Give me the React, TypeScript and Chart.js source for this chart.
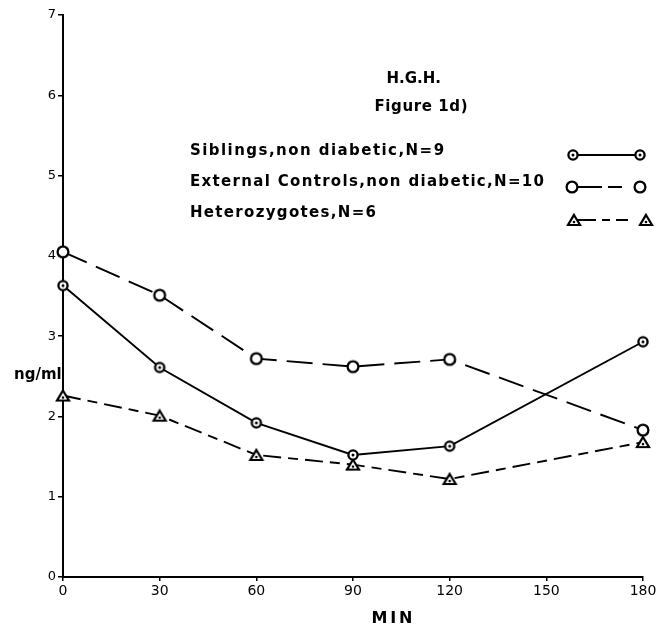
import React, { useEffect, useRef } from "react";
import { Chart, registerables } from "chart.js";

Chart.register(...registerables);

// ---- data ----
const minutes = [0, 30, 60, 90, 120, 180];
const siblings = [3.63, 2.61, 1.92, 1.52, 1.63, 2.93];
const externalControls = [4.05, 3.51, 2.72, 2.62, 2.71, 1.83];
const heterozygotes = [2.26, 2.01, 1.52, 1.4, 1.22, 1.68];
const xTickValues = [0, 30, 60, 90, 120, 150, 180];
const yTickValues = [0, 1, 2, 3, 4, 5, 6, 7];
const seriesLabels = [
  "Siblings,non diabetic,N=9",
  "External Controls,non diabetic,N=10",
  "Heterozygotes,N=6",
];
const titleLines = ["H.G.H.", "Figure 1d)"];
const xTitle = "MIN";
const yTitle = "ng/ml";

const FONT = '"DejaVu Sans", "Liberation Sans", sans-serif';

function makeDotCircle(r: number, lw: number): HTMLCanvasElement {
  const s = 14;
  const c = document.createElement("canvas");
  c.width = s;
  c.height = s;
  const g = c.getContext("2d")!;
  g.strokeStyle = "#000";
  g.lineWidth = lw;
  g.fillStyle = "#fff";
  g.beginPath();
  g.arc(s / 2, s / 2, r, 0, Math.PI * 2);
  g.fill();
  g.stroke();
  g.fillStyle = "#000";
  g.beginPath();
  g.arc(s / 2, s / 2, 1.5, 0, Math.PI * 2);
  g.fill();
  return c;
}

function makeOpenCircle(r: number, lw: number): HTMLCanvasElement {
  const s = 16;
  const c = document.createElement("canvas");
  c.width = s;
  c.height = s;
  const g = c.getContext("2d")!;
  g.strokeStyle = "#000";
  g.lineWidth = lw;
  g.fillStyle = "#fff";
  g.beginPath();
  g.arc(s / 2, s / 2, r, 0, Math.PI * 2);
  g.fill();
  g.stroke();
  return c;
}

function makeTriangle(w: number, h: number, lw: number): HTMLCanvasElement {
  const cw = 18;
  const ch = 16;
  const c = document.createElement("canvas");
  c.width = cw;
  c.height = ch;
  const g = c.getContext("2d")!;
  const top = (ch - h) / 2;
  const bot = (ch + h) / 2;
  g.strokeStyle = "#000";
  g.lineWidth = lw;
  g.lineJoin = "miter";
  g.fillStyle = "#fff";
  g.beginPath();
  g.moveTo(cw / 2, top);
  g.lineTo(cw / 2 + w / 2, bot);
  g.lineTo(cw / 2 - w / 2, bot);
  g.closePath();
  g.fill();
  g.stroke();
  g.fillStyle = "#000";
  g.beginPath();
  g.arc(cw / 2, bot - h * 0.3, 1.3, 0, Math.PI * 2);
  g.fill();
  return c;
}

export default function App() {
  const ref = useRef<HTMLCanvasElement | null>(null);

  useEffect(() => {
    if (!ref.current) return;
    const dotCircle = makeDotCircle(4.6, 2.3);
    const openCircle = makeOpenCircle(5.4, 2.3);
    const triangle = makeTriangle(12, 10, 2.2);

    const dashExternal = [26, 10];
    const dashHetero = [18, 7, 10, 7];

    const annot = {
      id: "annot",
      afterDraw(chart: any) {
        const ctx: CanvasRenderingContext2D = chart.ctx;
        ctx.save();
        ctx.fillStyle = "#000";
        ctx.textBaseline = "middle";
        ctx.textAlign = "left";
        const fitText = (
          text: string,
          x: number,
          y: number,
          width: number,
          font: string,
          center: boolean
        ) => {
          ctx.font = font;
          (ctx as any).letterSpacing = "0px";
          const w = ctx.measureText(text).width;
          const ls = Math.max(0, (width - w) / Math.max(1, text.length - 1));
          (ctx as any).letterSpacing = ls.toFixed(2) + "px";
          const x0 = center ? x - width / 2 : x;
          ctx.fillText(text, x0, y);
          (ctx as any).letterSpacing = "0px";
        };

        // title block
        fitText(titleLines[0], 410, 79, 47, `bold 15px ${FONT}`, true);
        fitText(titleLines[1], 421, 107, 93, `bold 15px ${FONT}`, true);

        // legend labels
        fitText(seriesLabels[0], 190, 151, 254, `bold 15px ${FONT}`, false);
        fitText(seriesLabels[1], 190, 182, 354, `bold 15px ${FONT}`, false);
        fitText(seriesLabels[2], 190, 213, 186, `bold 15px ${FONT}`, false);

        // legend samples
        const sample = (
          y: number,
          x1: number,
          x2: number,
          dash: number[],
          img: HTMLCanvasElement
        ) => {
          ctx.save();
          ctx.strokeStyle = "#000";
          ctx.lineWidth = 1.8;
          ctx.setLineDash(dash);
          ctx.beginPath();
          ctx.moveTo(x1, y);
          ctx.lineTo(x2, y);
          ctx.stroke();
          ctx.setLineDash([]);
          ctx.drawImage(img, x1 - img.width / 2, y - img.height / 2);
          ctx.drawImage(img, x2 - img.width / 2, y - img.height / 2);
          ctx.restore();
        };
        sample(155, 573, 640, [], dotCircle);
        sample(187, 572, 640, [30, 6, 14, 100], openCircle);
        sample(220, 574, 646, [22, 6, 8, 6, 12, 100], triangle);

        // axis titles
        fitText(yTitle, 14, 375, 47, `bold 15px ${FONT}`, false);
        fitText(xTitle, 392, 619, 41, `bold 16px ${FONT}`, true);
        ctx.restore();
      },
    };

    const chart = new Chart(ref.current, {
      type: "line",
      data: {
        datasets: [
          {
            label: seriesLabels[0],
            data: minutes.map((m, i) => ({ x: m, y: siblings[i] })),
            borderColor: "#000",
            borderWidth: 1.9,
            pointStyle: dotCircle as any,
            pointRadius: 6,
            clip: false as any,
          },
          {
            label: seriesLabels[1],
            data: minutes.map((m, i) => ({ x: m, y: externalControls[i] })),
            borderColor: "#000",
            borderWidth: 1.9,
            borderDash: dashExternal,
            pointStyle: openCircle as any,
            pointRadius: 6,
            clip: false as any,
          },
          {
            label: seriesLabels[2],
            data: minutes.map((m, i) => ({ x: m, y: heterozygotes[i] })),
            borderColor: "#000",
            borderWidth: 1.9,
            borderDash: dashHetero,
            pointStyle: triangle as any,
            pointRadius: 6,
            clip: false as any,
          },
        ],
      },
      options: {
        responsive: false,
        animation: false,
        events: [],
        layout: { padding: { top: 15, right: 27, left: 0, bottom: 0 } },
        plugins: {
          legend: { display: false },
          tooltip: { enabled: false },
          title: { display: false },
        },
        scales: {
          x: {
            type: "linear",
            min: 0,
            max: 180,
            afterBuildTicks: (scale: any) => {
              scale.ticks = xTickValues.map((v) => ({ value: v }));
            },
            afterFit: (scale: any) => {
              scale.height = 50;
            },
            grid: {
              drawOnChartArea: false,
              drawTicks: true,
              tickLength: 4,
              color: "#000",
              lineWidth: 1.5,
            },
            border: { display: true, color: "#000", width: 2 },
            ticks: {
              color: "#000",
              font: { family: FONT, size: 14 },
              padding: 2,
              maxRotation: 0,
              autoSkip: false,
            },
          },
          y: {
            type: "linear",
            min: 0,
            max: 7,
            afterBuildTicks: (scale: any) => {
              scale.ticks = yTickValues.map((v) => ({ value: v }));
            },
            afterFit: (scale: any) => {
              scale.width = 63;
            },
            grid: {
              drawOnChartArea: false,
              drawTicks: true,
              tickLength: 5,
              color: "#000",
              lineWidth: 1.5,
            },
            border: { display: true, color: "#000", width: 2 },
            ticks: {
              color: "#000",
              font: { family: FONT, size: 13 },
              padding: 2,
              autoSkip: false,
            },
          },
        },
      },
      plugins: [annot],
    } as any);

    return () => chart.destroy();
  }, []);

  return (
    <div
      style={{
        position: "absolute",
        left: 0,
        top: 0,
        width: 670,
        height: 627,
        background: "#fff",
      }}
    >
      <canvas ref={ref} width={670} height={627} />
    </div>
  );
}
